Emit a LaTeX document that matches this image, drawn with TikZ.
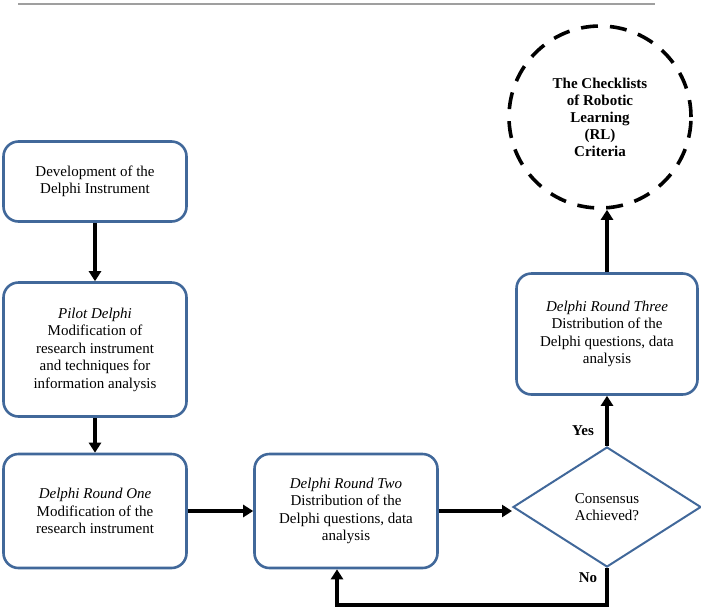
\documentclass[tikz,border=0pt]{standalone}
\usepackage{fontspec}
\setmainfont{Liberation Serif}
\usetikzlibrary{shapes.geometric,arrows.meta}
\definecolor{boxblue}{HTML}{41689A}
\begin{document}
\begin{tikzpicture}[x=1pt,y=1pt,
  stepbox/.style={draw=boxblue,line width=2.6pt,rounded corners=15pt,fill=white,align=center,
    font=\fontsize{15}{17.5}\selectfont,inner sep=2pt},
  decide/.style={draw=boxblue,line width=2pt,diamond,inner sep=0pt,align=center,
    font=\fontsize{15}{17.5}\selectfont},
  goal/.style={draw=black,line width=3.6pt,circle,dash pattern=on 17pt off 12pt,align=center,
    font=\bfseries\fontsize{15}{17}\selectfont,inner sep=0pt},
  arr/.style={draw=black,line width=3.6pt,-{Triangle[length=10pt,width=12pt]}},
  lbl/.style={font=\bfseries\fontsize{15}{17}\selectfont}]
\useasboundingbox (0,0) rectangle (701,-611);
\draw[gray!75,line width=1.6pt] (18,-4) -- (655,-4);
\node[stepbox,minimum width=183pt,minimum height=80pt] (b1) at (95,-181.5) {Development of the\\Delphi Instrument};
\node[stepbox,minimum width=183pt,minimum height=134pt] (b2) at (95,-349.5) {\textit{Pilot Delphi}\\Modification of\\research instrument\\and techniques for\\information analysis};
\node[stepbox,minimum width=183pt,minimum height=114pt] (b3) at (95,-511) {\textit{Delphi Round One}\\Modification of the\\research instrument};
\node[stepbox,minimum width=183pt,minimum height=114pt] (b4) at (346,-511) {\textit{Delphi Round Two}\\Distribution of the\\Delphi questions, data\\analysis};
\node[decide,minimum width=188pt,minimum height=120pt] (dia) at (607,-507) {Consensus\\Achieved?};
\node[stepbox,minimum width=181pt,minimum height=121pt] (b5) at (607,-334) {\textit{Delphi Round Three}\\Distribution of the\\Delphi questions, data\\analysis};
\node[goal,minimum size=182pt] (goal) at (600,-117) {The Checklists\\of Robotic\\Learning\\(RL)\\Criteria};
\node[lbl] (yes) at (583,-431) {Yes};
\node[lbl] (no) at (588,-578) {No};
\coordinate (nr) at (607,-605);
\coordinate (nl) at (337,-605);
\draw[arr] (b1.south) -- (b2.north);
\draw[arr] (b2.south) -- (b3.north);
\draw[arr] (b3.east) -- (b4.west);
\draw[arr] (b4.east) -- (b4.east -| dia.west);
\draw[arr] (dia.north) -- (b5.south);
\draw[arr] (b5.north) -- (b5.north |- goal.south);
\draw[arr,rounded corners=0pt] (dia.south) -- (nr) -- (nl) -- (nl |- b4.south);
\end{tikzpicture}
\end{document}
